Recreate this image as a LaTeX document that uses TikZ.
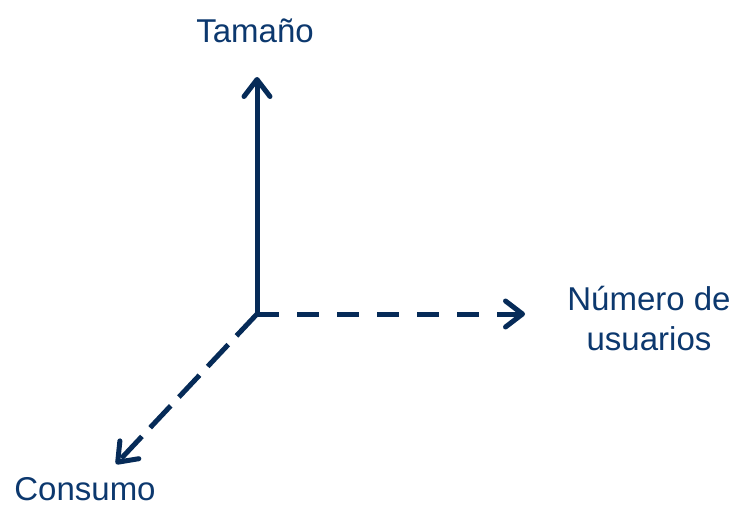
\documentclass[tikz,border=0pt]{standalone}
\usepackage{fontspec}
\setmainfont{Liberation Sans}
\usetikzlibrary{arrows.meta}
\definecolor{navy}{RGB}{6,43,88}
\definecolor{navytext}{RGB}{12,56,110}
\begin{document}
\begin{tikzpicture}[x=1pt,y=-1pt,
  axis/.style={draw=navy,line width=5pt,line join=round,
    -{Straight Barb[length=17pt,width=26pt,round]}},
  lbl/.style={text=navytext,font=\fontsize{33}{40}\selectfont,inner sep=0pt,align=center}]
\useasboundingbox (0,0) rectangle (735,506);
\coordinate (O) at (257,314);
\coordinate (Ttip) at (257,77);
\coordinate (Rtip) at (525,314);
\coordinate (Ctip) at (116,464);
\draw[axis] (O) -- (Ttip);
\draw[axis,dash pattern=on 22pt off 18pt] (O) -- (Rtip);
\draw[axis,dash pattern=on 30pt off 12pt] (O) -- (Ctip);
\draw[navy,line width=5pt,line join=round] (257,290) -- (O) -- (275,314);
\node[lbl,anchor=base] (t) at (255,42) {Tamaño};
\node[lbl,anchor=base] (n) at (649,350) {Número de\\usuarios};
\node[lbl,anchor=base] (c) at (85,500) {Consumo};
\end{tikzpicture}
\end{document}
